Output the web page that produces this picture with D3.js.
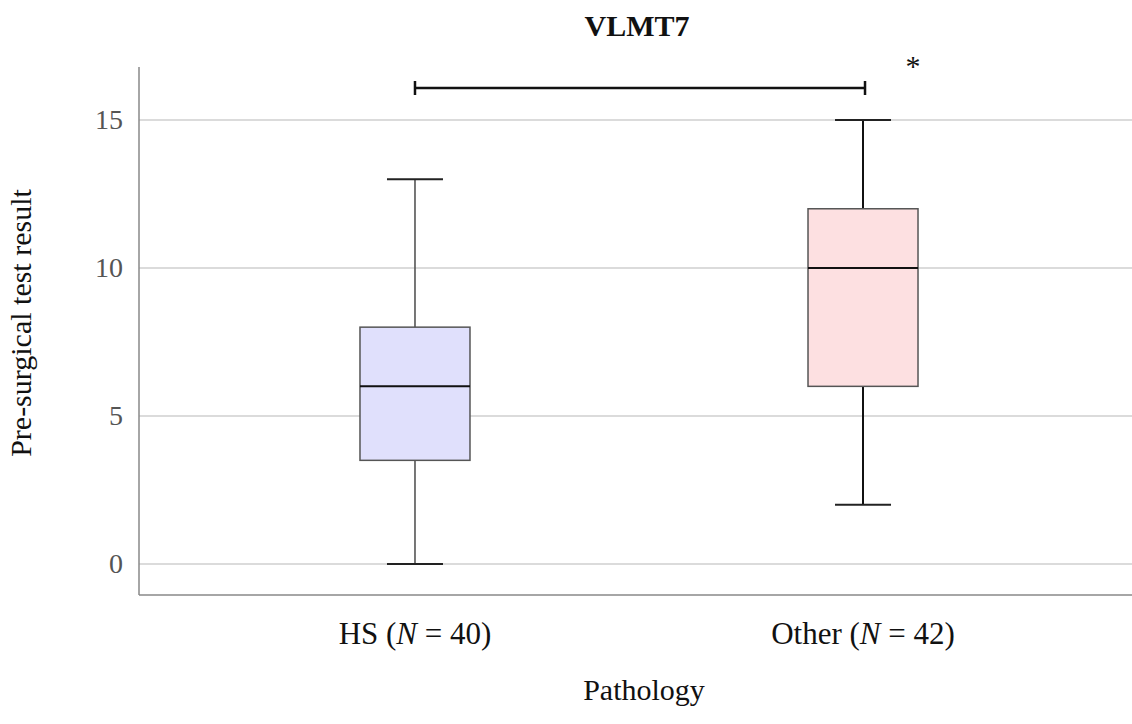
<!DOCTYPE html>
<html>
<head>
<meta charset="utf-8">
<script src="https://cdn.jsdelivr.net/npm/d3@7"></script>
<style>
  html, body { margin: 0; padding: 0; background: #fff; }
  svg { display: block; }
  text { font-family: "Liberation Serif", "Times New Roman", serif; }
</style>
</head>
<body>
<svg id="chart" width="1132" height="724"></svg>
<script>
// Box-plot summaries per pathology group
const categories = ["HS", "Other"];
const groupN = [40, 42];
const minValues = [0, 2];
const q1Values = [3.5, 6];
const medianValues = [6, 10];
const q3Values = [8, 12];
const maxValues = [13, 15];
const yTicks = [0, 5, 10, 15];
const fillColors = ["#e0e0fc", "#fde0e1"];
const whiskerColors = ["#555555", "#111111"];
const significance = "*";

const svg = d3.select("#chart");
const W = 1132, H = 724;
const plotLeft = 139, plotTop = 67, plotBottom = 595;

const y = d3.scaleLinear().domain([-1.05, 16.79]).range([plotBottom, plotTop]);
const x = d3.scalePoint().domain(categories).range([plotLeft, 1139]).padding(0.616);
const boxW = 110, capW = 56;

// grid lines
svg.append("g").selectAll("line").data(yTicks).join("line")
  .attr("x1", plotLeft).attr("x2", W)
  .attr("y1", d => y(d)).attr("y2", d => y(d))
  .attr("stroke", "#cfcfcf").attr("stroke-width", 1.5);

// axes
const yAxis = d3.axisLeft(y).tickValues(yTicks).tickSize(0).tickPadding(16);
const gy = svg.append("g").attr("transform", `translate(${plotLeft},0)`).call(yAxis);
gy.select(".domain").remove();
gy.selectAll("text").attr("font-size", 28).attr("fill", "#555")
  .style("font-family", '"Liberation Serif", serif');

svg.append("line").attr("x1", plotLeft).attr("x2", plotLeft).attr("y1", plotTop).attr("y2", plotBottom)
  .attr("stroke", "#888").attr("stroke-width", 1.5);
svg.append("line").attr("x1", plotLeft).attr("x2", W).attr("y1", plotBottom).attr("y2", plotBottom)
  .attr("stroke", "#888").attr("stroke-width", 1.5);

// boxes
const rows = categories.map((c, i) => ({
  c, i, min: minValues[i], q1: q1Values[i], med: medianValues[i], q3: q3Values[i], max: maxValues[i]
}));
const g = svg.append("g").selectAll("g").data(rows).join("g");
g.append("line").attr("x1", d => x(d.c)).attr("x2", d => x(d.c))
  .attr("y1", d => y(d.max)).attr("y2", d => y(d.q3))
  .attr("stroke", d => whiskerColors[d.i]).attr("stroke-width", d => d.i ? 2 : 1.6);
g.append("line").attr("x1", d => x(d.c)).attr("x2", d => x(d.c))
  .attr("y1", d => y(d.q1)).attr("y2", d => y(d.min))
  .attr("stroke", d => whiskerColors[d.i]).attr("stroke-width", d => d.i ? 2 : 1.6);
g.append("line").attr("x1", d => x(d.c) - capW / 2).attr("x2", d => x(d.c) + capW / 2)
  .attr("y1", d => y(d.max)).attr("y2", d => y(d.max))
  .attr("stroke", "#222").attr("stroke-width", 2);
g.append("line").attr("x1", d => x(d.c) - capW / 2).attr("x2", d => x(d.c) + capW / 2)
  .attr("y1", d => y(d.min)).attr("y2", d => y(d.min))
  .attr("stroke", "#222").attr("stroke-width", 2);
g.append("rect").attr("x", d => x(d.c) - boxW / 2).attr("width", boxW)
  .attr("y", d => y(d.q3)).attr("height", d => y(d.q1) - y(d.q3))
  .attr("fill", d => fillColors[d.i]).attr("stroke", "#555").attr("stroke-width", 1.5);
g.append("line").attr("x1", d => x(d.c) - boxW / 2).attr("x2", d => x(d.c) + boxW / 2)
  .attr("y1", d => y(d.med)).attr("y2", d => y(d.med))
  .attr("stroke", "#111").attr("stroke-width", 2);

// x category labels
const xl = svg.append("g").selectAll("text").data(rows).join("text")
  .attr("x", d => x(d.c)).attr("y", 644).attr("text-anchor", "middle")
  .attr("font-size", 31).attr("fill", "#111");
xl.append("tspan").text(d => d.c + " (");
xl.append("tspan").attr("font-style", "italic").text("N");
xl.append("tspan").text(d => " = " + groupN[d.i] + ")");

// significance bracket
const bx1 = x(categories[0]), bx2 = x(categories[1]) + 2, by = 88;
svg.append("line").attr("x1", bx1).attr("x2", bx2).attr("y1", by).attr("y2", by)
  .attr("stroke", "#111").attr("stroke-width", 2.5);
[bx1, bx2].forEach(bx => svg.append("line").attr("x1", bx).attr("x2", bx)
  .attr("y1", by - 7).attr("y2", by + 7).attr("stroke", "#111").attr("stroke-width", 2.5));
svg.append("text").attr("x", bx2 + 48).attr("y", 76).attr("text-anchor", "middle")
  .attr("font-size", 30).attr("fill", "#111").text(significance);

// titles
svg.append("text").attr("x", 637).attr("y", 36).attr("text-anchor", "middle")
  .attr("font-size", 30).attr("font-weight", "bold").attr("fill", "#111").text("VLMT7");
svg.append("text").attr("x", 644).attr("y", 700).attr("text-anchor", "middle")
  .attr("font-size", 30).attr("fill", "#111").text("Pathology");
svg.append("text").attr("transform", "translate(31,323) rotate(-90)")
  .attr("text-anchor", "middle").attr("font-size", 30).attr("fill", "#111")
  .text("Pre-surgical test result");
</script>
</body>
</html>
